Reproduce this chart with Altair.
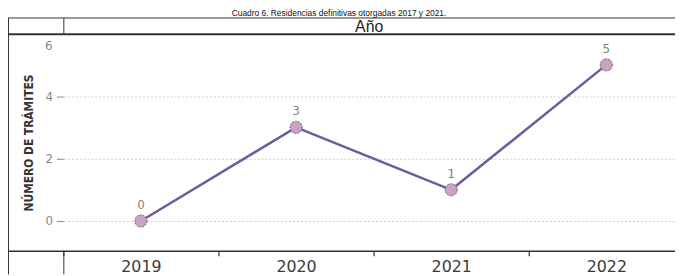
import altair as alt
import pandas as pd

years = ["2019", "2020", "2021", "2022"]
tramites = [0, 3, 1, 5]
y_ticks = [0, 2, 4]
title_text = "Cuadro 6. Residencias definitivas otorgadas 2017 y 2021."
header_text = "Año"
y_title = "NÚMERO DE TRÁMITES"

df = pd.DataFrame({"year": years, "n": tramites})
one = alt.InlineData(values=[{"k": 1}])

W, H = 619, 219
LINE = "#333333"

xs = alt.X("year:N", sort=years,
           scale=alt.Scale(type="band", range=[0, 628], paddingInner=0, paddingOuter=0),
           axis=alt.Axis(title=None, domain=False, ticks=True, tickBand="extent",
                         tickSize=5, tickColor="#333", tickWidth=1.2, labelAngle=0,
                         labelFont="DejaVu Sans", labelFontSize=16, labelColor="#3a3a3a",
                         labelPadding=3, grid=False))
ys = alt.Y("n:Q", scale=alt.Scale(domain=[-0.95, 5.98], nice=False, zero=False),
           axis=alt.Axis(values=y_ticks, title=y_title, domain=False, tickSize=7,
                         tickColor="#888", labelFont="DejaVu Sans", labelFontSize=12,
                         labelColor="#888", labelPadding=4, grid=True, gridDash=[2, 2],
                         gridColor="#cccccc",
                         titleFont="Liberation Sans Narrow, DejaVu Sans Condensed, sans-serif",
                         titleFontSize=12, titleFontWeight="bold", titleColor="#333",
                         titleX=-35, titleY=109.5, titleBaseline="middle", titleAngle=-90))

base = alt.Chart(df)
line = base.mark_line(color="#6a5c9e", strokeWidth=2.5).encode(x=xs, y=ys)
pts = base.mark_point(filled=True, size=150, fill="#c9a2c6", stroke="#666",
                      strokeWidth=1, strokeDash=[2, 1], opacity=1).encode(x=xs, y=ys)
labels = base.mark_text(dy=-16, fontSize=12, font="DejaVu Sans", color="#808080").encode(
    x=xs, y=ys, text="n:Q")

six = alt.Chart(one).mark_text(align="right", baseline="middle", fontSize=12,
                               font="DejaVu Sans", color="#888").encode(
    x=alt.value(-11), y=alt.datum(5.6, type="quantitative"), text=alt.value("6"))

def hrule(y, x1, x2, w=1.0):
    return alt.Chart(one).mark_rule(color=LINE, strokeWidth=w).encode(
        x=alt.value(x1), x2=alt.value(x2), y=alt.value(y), y2=alt.value(y))

def vrule(x, y1, y2, w=1.0):
    return alt.Chart(one).mark_rule(color=LINE, strokeWidth=w).encode(
        x=alt.value(x), x2=alt.value(x), y=alt.value(y1), y2=alt.value(y2))

TOP = -16.5
rules = [
    hrule(TOP, -56, W),
    hrule(0, -56, W, 2),
    hrule(219.5, -56, W, 1.5),
    vrule(-55.5, TOP, 243),
    vrule(0.5, TOP, 0),
    vrule(0.5, 219, 243),
]

header = alt.Chart(one).mark_text(fontSize=16, font="Liberation Sans", color="#222",
                                  baseline="middle").encode(
    x=alt.value(W / 2), y=alt.value(-7), text=alt.value(header_text))
title = alt.Chart(one).mark_text(fontSize=8.5, font="Liberation Sans", color="#111",
                                 baseline="alphabetic").encode(
    x=alt.value(279), y=alt.value(-18.5), text=alt.value(title_text))

chart = alt.layer(*rules, line, pts, labels, six, header, title).properties(
    width=W, height=H,
    autosize=alt.AutoSizeParams(type="none"),
    padding={"left": 56, "top": 25, "right": 0, "bottom": 24},
).configure(background="white").configure_view(strokeWidth=0, strokeOpacity=0)

chart.save("out.html", embed_options={"renderer": "svg", "actions": False})
